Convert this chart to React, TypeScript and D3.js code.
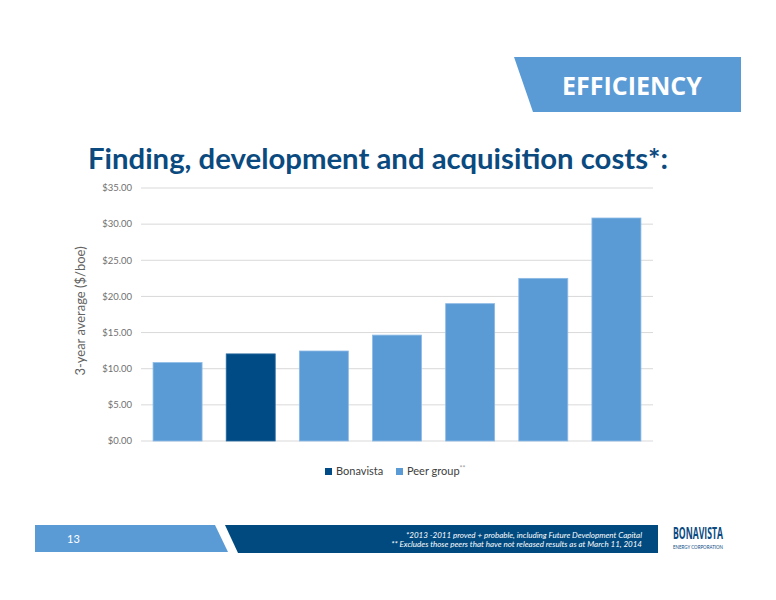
import React from "react";
import * as d3 from "d3";

const categories = ["Peer A", "Bonavista", "Peer B", "Peer C", "Peer D", "Peer E", "Peer F"];
const seriesOf = ["Peer group", "Bonavista", "Peer group", "Peer group", "Peer group", "Peer group", "Peer group"];
const costs = [10.85, 12.05, 12.45, 14.65, 19.0, 22.5, 30.85];
const yTicks = [0, 5, 10, 15, 20, 25, 30, 35];

const LIGHT = "#5b9bd5";
const DARK = "#004b85";
const FONT = "Lato, 'Open Sans', sans-serif";

export default function App() {
  const W = 776, H = 600;
  const x = d3.scaleBand<string>().domain(categories).range([141, 653]).paddingInner(0.33).paddingOuter(0.165);
  const y = d3.scaleLinear().domain([0, 35]).range([441, 188]);
  const fmt = (v: number) => "$" + d3.format(".2f")(v);

  return (
    <svg width={W} height={H} style={{ position: "absolute", left: 0, top: 0, background: "#fff" }} fontFamily={FONT}>
      <rect x={0} y={0} width={W} height={H} fill="#fff" />
      {/* header banner */}
      <polygon points="514,57 741,57 741,112 533,112" fill={LIGHT} />
      <text x={632} y={95} textAnchor="middle" fill="#fff" fontSize={25} fontWeight={700} fontFamily={"'Open Sans', sans-serif"}>EFFICIENCY</text>
      {/* title */}
      <text x={88} y={169} fill="#0b4a7f" fontSize={28} fontWeight={700} textLength={580} lengthAdjust="spacingAndGlyphs">Finding, development and acquisition costs*:</text>
      {/* grid & axis */}
      {yTicks.map((t) => (
        <g key={t}>
          <line x1={141} x2={653} y1={y(t)} y2={y(t)} stroke="#d9d9d9" strokeWidth={1} />
          <text x={132} y={y(t)} dy="0.35em" textAnchor="end" fill="#707070" fontSize={9.5}>{fmt(t)}</text>
        </g>
      ))}
      <text transform={`translate(85,311) rotate(-90)`} textAnchor="middle" fill="#636363" fontSize={13}>3-year average ($/boe)</text>
      {/* bars */}
      {categories.map((c, i) => (
        <rect key={c} x={x(c)} y={y(costs[i])} width={x.bandwidth()} height={y(0) - y(costs[i])}
          fill={seriesOf[i] === "Bonavista" ? DARK : LIGHT}
          stroke={seriesOf[i] === "Bonavista" ? "#2a6aa0" : "#8dbbe6"} strokeWidth={0.8} />
      ))}
      {/* legend */}
      <rect x={325} y={468} width={7} height={7} fill={DARK} />
      <text x={336} y={475} fill="#404040" fontSize={11}>Bonavista</text>
      <rect x={396} y={468} width={7} height={7} fill={LIGHT} />
      <text x={407} y={475} fill="#404040" fontSize={11}>Peer group<tspan fontSize={7} dy={-4} fill="#999">**</tspan></text>
      {/* footer */}
      <polygon points="35,525 215,525 228,552 35,552" fill={LIGHT} />
      <text x={67} y={543} fill="#fff" fontSize={11}>13</text>
      <polygon points="225,525 658,525 658,553 238,553" fill="#004a80" />
      <text x={642} y={538} textAnchor="end" fill="#fff" fontSize={8} fontStyle="italic">*2013 -2011 proved + probable, including Future Development Capital</text>
      <text x={642} y={547} textAnchor="end" fill="#fff" fontSize={8} fontStyle="italic">** Excludes those peers that have not released results as at March 11, 2014</text>
      {/* logo */}
      <text x={698} y={539} textAnchor="middle" fill="#0b4a7f" fontSize={16} fontWeight={700} textLength={50} lengthAdjust="spacingAndGlyphs" fontFamily={"'Liberation Sans Narrow', 'Open Sans', sans-serif"}>BONAVISTA</text>
      <text x={698} y={549} textAnchor="middle" fill="#0b4a7f" fontSize={5.5} textLength={50} lengthAdjust="spacingAndGlyphs">ENERGY CORPORATION</text>
    </svg>
  );
}
